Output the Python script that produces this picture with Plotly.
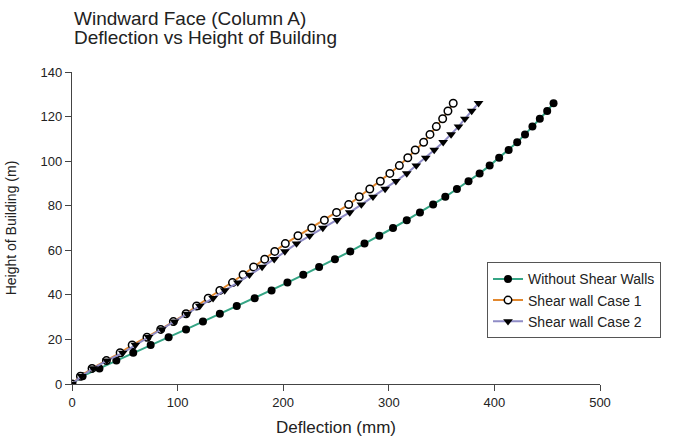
import plotly.graph_objects as go

# Storey levels of the building (m), 3.5 m per floor
height_m = [0, 3.5, 7, 10.5, 14, 17.5, 21, 24.5, 28, 31.5, 35, 38.5, 42, 45.5, 49,
            52.5, 56, 59.5, 63, 66.5, 70, 73.5, 77, 80.5, 84, 87.5, 91, 94.5, 98,
            101.5, 105, 108.5, 112, 115.5, 119, 122.5, 126]

# Lateral deflection at each level (mm)
defl_no_walls = [0, 10, 26, 42, 58, 74.5, 91.5, 108, 124, 140, 156, 173, 189, 204, 219,
                 234, 249, 263.5, 277, 291, 304, 317, 329.5, 342, 353.5, 364.5, 375.5,
                 386, 395.5, 404.5, 413.5, 421.6, 429, 436, 443, 450, 456]
defl_case1 = [0, 8, 19, 32.6, 45.6, 57, 71, 84, 96, 108, 118, 129, 140, 152, 162,
              172, 182.5, 192, 202, 214, 227, 239, 250.5, 262, 272, 282, 292,
              301, 310, 318, 325, 333, 339, 345, 351, 356, 361]
defl_case2 = [0, 9, 20, 33, 48, 60, 72.5, 85, 97, 109, 121, 133.6, 144.6, 157, 168,
              180, 191.5, 201.6, 212.6, 225, 237.5, 251, 263, 274, 285, 296.5, 306.7,
              317, 326, 335, 343, 351.5, 359, 366, 372, 378.5, 385]

series = [
    ("Without Shear Walls", defl_no_walls, "#35a585",
     dict(symbol="circle", size=8, color="black")),
    ("Shear wall Case 1", defl_case1, "#e2882e",
     dict(symbol="circle", size=7.5, color="white", line=dict(color="black", width=1.5))),
    ("Shear wall Case 2", defl_case2, "#8f8cc6",
     dict(symbol="triangle-down", size=8.5, color="black")),
]

fig = go.Figure()
for name, xs, col, mk in series:
    fig.add_trace(go.Scatter(x=xs, y=height_m, mode="lines+markers", name=name,
                             line=dict(color=col, width=2), marker=mk))

axis_common = dict(showline=True, linecolor="#444", linewidth=1.2, ticks="outside",
                   ticklen=6, tickcolor="#444", showgrid=False, zeroline=False,
                   mirror=False, tickfont=dict(size=13, color="#222"))

fig.update_layout(
    width=677, height=440,
    margin=dict(l=72, r=77, t=72, b=56),
    paper_bgcolor="white", plot_bgcolor="white",
    font=dict(family="Arial, Liberation Sans, sans-serif", color="#222"),
    xaxis=dict(range=[0, 500], tickvals=[0, 100, 200, 300, 400, 500],
               title=dict(text="Deflection (mm)", font=dict(size=17), standoff=12),
               automargin=False, **axis_common),
    yaxis=dict(range=[0, 140], tickvals=[0, 20, 40, 60, 80, 100, 120, 140],
               title=dict(text="Height of Building (m)", font=dict(size=14), standoff=20),
               automargin=False, **axis_common),
    legend=dict(x=0.786, y=0.39, xanchor="left", yanchor="top",
                bgcolor="white", bordercolor="#555", borderwidth=1,
                font=dict(size=14, color="#222"), tracegroupgap=0),
    showlegend=True,
    annotations=[
        dict(text="Windward Face (Column A)", xref="paper", yref="paper",
             x=0, y=1.173, xanchor="left", yanchor="middle", showarrow=False,
             font=dict(size=19, color="#222")),
        dict(text="Deflection vs Height of Building", xref="paper", yref="paper",
             x=0, y=1.112, xanchor="left", yanchor="middle", showarrow=False,
             font=dict(size=19, color="#222")),
    ],
)

fig.write_html("out.html")
